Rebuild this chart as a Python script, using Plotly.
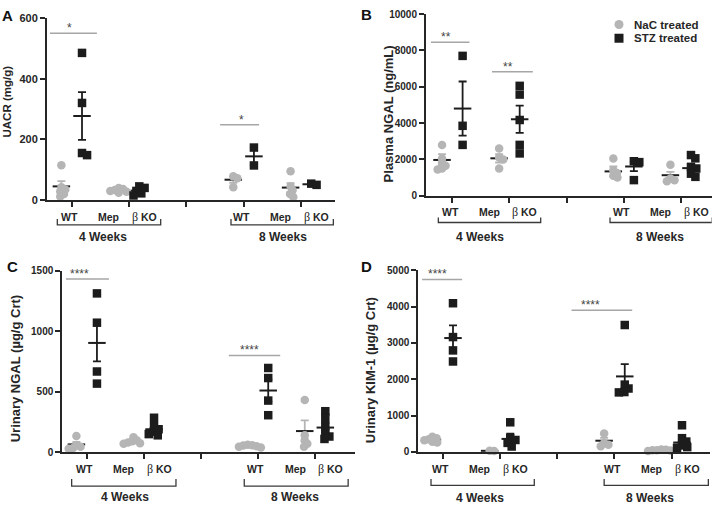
import numpy as np
import plotly.graph_objects as go

W, H = 713, 511

# ------------------------------------------------------------------ data
group_labels = ["WT", "Mep β KO", "WT", "Mep β KO"]
week_labels = ["4 Weeks", "8 Weeks"]
treatments = ["NaC treated", "STZ treated"]

# Panel A: UACR (mg/g)
uacr_nac = [[115, 42, 35, 28, 20, 12], [40, 36, 33, 30, 27, 24], [78, 72, 42], [95, 45, 32, 20, 10]]
uacr_stz = [[485, 320, 155, 148], [45, 40, 30, 22, 15], [173, 114], [54, 50]]
uacr_nac_mean = [45, 32, 67, 41]
uacr_nac_sem = [17, 3, 10, 15]
uacr_stz_mean = [277, 31, 144, 52]
uacr_stz_sem = [79, 6, 29, 2]
uacr_sig = ["*", "*"]
uacr_sig_level = [550, 248]
uacr_ticks = [0, 200, 400, 600]

# Panel B: Plasma NGAL (ng/mL)
pngal_nac = [[2800, 2050, 1800, 1650, 1500, 1450], [2600, 2100, 2000, 1500],
             [2050, 1400, 1250, 1100, 1000], [1700, 950, 850, 800]]
pngal_stz = [[7700, 3850, 2800], [6050, 5570, 4170, 2800, 2330],
             [1900, 1850, 860], [2240, 2060, 1580, 1500, 1215, 1040]]
pngal_nac_mean = [1970, 2060, 1340, 1130]
pngal_nac_sem = [320, 230, 270, 180]
pngal_stz_mean = [4800, 4210, 1610, 1520]
pngal_stz_sem = [1490, 750, 260, 240]
pngal_sig = ["**", "**"]
pngal_sig_level = [8450, 6830]
pngal_ticks = [0, 2000, 4000, 6000, 8000, 10000]

# Panel C: Urinary NGAL (µg/g Crt)
ungal_nac = [[135, 60, 45, 35, 30], [125, 100, 90, 80, 75, 70],
             [62, 58, 55, 50, 45, 40], [431, 140, 100, 70, 45]]
ungal_stz = [[1312, 1070, 667, 567], [285, 215, 190, 170, 150, 140],
             [696, 613, 427, 306], [339, 285, 215, 160, 130, 110]]
ungal_nac_mean = [65, 91, 52, 175]
ungal_nac_sem = [20, 8, 4, 88]
ungal_stz_mean = [903, 190, 510, 204]
ungal_stz_sem = [152, 20, 92, 38]
ungal_sig = ["****", "****"]
ungal_sig_level = [1430, 800]
ungal_ticks = [0, 500, 1000, 1500]

# Panel D: Urinary KIM-1 (µg/g Crt)
kim_nac = [[420, 380, 350, 320, 280, 260], [35, 30], [510, 240, 200, 160], [70, 60, 50, 45, 40, 30]]
kim_stz = [[4095, 3163, 2796, 2491], [817, 380, 330, 250, 150],
           [3495, 1855, 1747, 1650, 1640], [735, 380, 287, 180, 134, 116]]
kim_nac_mean = [340, 32, 310, 50]
kim_nac_sem = [25, 3, 80, 6]
kim_stz_mean = [3136, 360, 2080, 260]
kim_stz_sem = [350, 145, 340, 120]
kim_sig = ["****", "****"]
kim_sig_level = [4750, 3900]
kim_ticks = [0, 1000, 2000, 3000, 4000, 5000]

# ------------------------------------------------------------------ style / layout
GRAY = "#b5b5b5"
BLACK = "#1c1c1c"
AXC = "#262626"
SIGC = "#a6a6a6"
FONT = "Liberation Sans, Arial, sans-serif"

cat_pos = [1, 2, 4, 5]          # category centres on the x axis (3 = separator tick)
SUB = 0.18                      # NaC left / STZ right of the category centre

panels = [
    dict(letter="A", title="UACR (mg/g)", nac=uacr_nac, stz=uacr_stz,
         nm=uacr_nac_mean, ns=uacr_nac_sem, sm=uacr_stz_mean, ss=uacr_stz_sem,
         sig=uacr_sig, siglev=uacr_sig_level, ticks=uacr_ticks,
         box=(47, 335, 12.3, 198.7), xr=(0.569, 5.595),
         sigx=[(0.621, 1.44, 0.97), (3.59, 4.27, 3.97)],
         br=[(0.749, 2.553), (3.78, 5.566)], bry=(19.5, 25.5, 38), wkx=[1.55, 4.69],
         ttl=(7.3, 97.5, 11.5), tickfs=11, letpos=(7, 10)),
    dict(letter="B", title="Plasma NGAL (ng/mL)", nac=pngal_nac, stz=pngal_stz,
         nm=pngal_nac_mean, ns=pngal_nac_sem, sm=pngal_stz_mean, ss=pngal_stz_sem,
         sig=pngal_sig, siglev=pngal_sig_level, ticks=pngal_ticks,
         box=(426, 711.7, 8.3, 194.3), xr=(0.539, 5.543),
         sigx=[(0.627, 1.30, 0.89), (1.695, 2.41, 1.975)],
         br=[(0.755, 2.548), (3.762, 5.55)], bry=(22.4, 27.4, 42.3), wkx=[1.485, 4.64],
         ttl=(388, 111, 13), tickfs=10, letpos=(366, 9)),
    dict(letter="C", title="Urinary NGAL (µg/g Crt)", nac=ungal_nac, stz=ungal_stz,
         nm=ungal_nac_mean, ns=ungal_nac_sem, sm=ungal_stz_mean, ss=ungal_stz_sem,
         sig=ungal_sig, siglev=ungal_sig_level, ticks=ungal_ticks,
         box=(62.3, 355, 271, 457), xr=(0.573, 5.70),
         sigx=[(0.637, 1.39, 0.88), (3.49, 4.39, 3.86)],
         br=[(0.737, 2.564), (3.76, 5.58)], bry=(27.3, 34.7, 46.3), wkx=[1.67, 4.65],
         ttl=(15, 372, 13), tickfs=10, letpos=(12, 267)),
    dict(letter="D", title="Urinary KIM-1 (µg/g Crt)", nac=kim_nac, stz=kim_stz,
         nm=kim_nac_mean, ns=kim_nac_sem, sm=kim_stz_mean, ss=kim_stz_sem,
         sig=kim_sig, siglev=kim_sig_level, ticks=kim_ticks,
         box=(418.3, 710, 270.7, 456.7), xr=(0.574, 5.669),
         sigx=[(0.64, 1.34, 0.91), (3.25, 4.31, 3.58)],
         br=[(0.796, 2.60), (3.82, 5.64)], bry=(27.7, 34.3, 46.7), wkx=[1.65, 4.62],
         ttl=(370, 373, 13), tickfs=10, letpos=(367, 267)),
]

LEGEND_BOX = dict(marker_x=619, text_x=632, rows_y=[19, 33])
SWARM_SPACING = {"nac": 4.5, "stz": 5.5}     # px between neighbouring marker centres


def px2x(px):
    return px / W


def px2y(py):
    return 1 - py / H


def swarm(values, ppu_y, diam):
    """Deterministic beeswarm offsets (in px) so that marker centres keep a spacing."""
    vals = np.asarray(values, float)
    order = np.argsort(-vals, kind="stable")
    placed = []
    offs = np.zeros(len(vals))
    for i in order:
        y = vals[i] * ppu_y
        cands = [0.0]
        for (px, py) in placed:
            dy = abs(y - py)
            if dy < diam:
                dx = np.sqrt(diam ** 2 - dy ** 2)
                cands += [px + dx, px - dx]
        cands.sort(key=lambda c: (round(abs(c), 6), -c))
        for c in cands:
            if all((c - px) ** 2 + (y - py) ** 2 >= diam ** 2 - 1e-6 for px, py in placed):
                offs[i] = c
                placed.append((c, y))
                break
    return offs


fig = go.Figure()
layout = dict(
    width=W, height=H, margin=dict(l=0, r=0, t=0, b=0),
    paper_bgcolor="white", plot_bgcolor="rgba(0,0,0,0)",
    font=dict(family=FONT, color=AXC),
    showlegend=False,
)
shapes, annotations = [], []

for k, p in enumerate(panels):
    sfx = "" if k == 0 else str(k + 1)
    xa, ya = "x" + sfx, "y" + sfx
    L, R, T, B = p["box"]
    ymax = p["ticks"][-1]
    ppu_y = (B - T) / ymax
    ppu_x = (R - L) / (p["xr"][1] - p["xr"][0])

    layout["xaxis" + sfx] = dict(
        domain=[px2x(L), px2x(R)], range=list(p["xr"]), anchor=ya,
        showline=True, linecolor=AXC, linewidth=2, ticks="outside", ticklen=5,
        tickwidth=2, tickcolor=AXC, tickvals=[1, 2, 3, 4, 5], showticklabels=False,
        showgrid=False, zeroline=False, fixedrange=True)
    layout["yaxis" + sfx] = dict(
        domain=[px2y(B), px2y(T)], range=[0, ymax], anchor=xa,
        showline=True, linecolor=AXC, linewidth=2, ticks="outside", ticklen=5,
        tickwidth=2, tickcolor=AXC, tickvals=p["ticks"],
        ticktext=[str(t) for t in p["ticks"]],
        tickfont=dict(family=FONT, size=p["tickfs"], color=AXC, weight="bold"),
        showgrid=False, zeroline=False, fixedrange=True)

    series = (("nac", p["nac"], p["nm"], p["ns"], -1, GRAY, "circle", treatments[0]),
              ("stz", p["stz"], p["sm"], p["ss"], +1, BLACK, "square", treatments[1]))
    # mean ± SEM first, individual points on top of them
    for key, vals_all, means, sems, sgn, col, sym, name in series:
        for g in range(len(means)):
            centre = cat_pos[g] + sgn * SUB
            fig.add_trace(go.Scatter(
                x=[centre], y=[means[g]], mode="markers", xaxis=xa, yaxis=ya,
                marker=dict(symbol="line-ew", size=12.5, color=BLACK,
                            line=dict(width=2, color=BLACK)),
                error_y=dict(type="data", array=[sems[g]], color=col,
                             thickness=1.8, width=4),
                name=name + " mean ± SEM", cliponaxis=False, hoverinfo="skip"))
    for key, vals_all, means, sems, sgn, col, sym, name in series:
        for g, vals in enumerate(vals_all):
            centre = cat_pos[g] + sgn * SUB
            offs = swarm(vals, ppu_y, SWARM_SPACING[key]) / ppu_x
            fig.add_trace(go.Scatter(
                x=list(centre + offs), y=list(vals), mode="markers", xaxis=xa, yaxis=ya,
                marker=dict(symbol=sym, size=8.5, color=col, line=dict(width=0)),
                name=name, cliponaxis=False, hoverinfo="skip"))

    # significance bars
    for (x0, x1, xs), lab, lev in zip(p["sigx"], p["sig"], p["siglev"]):
        shapes.append(dict(type="line", xref=xa, yref=ya, x0=x0, x1=x1, y0=lev, y1=lev,
                           line=dict(color=SIGC, width=1.5)))
        annotations.append(dict(xref=xa, yref=ya, x=xs, y=lev, text=lab, showarrow=False,
                                yanchor="middle", yshift=5,
                                font=dict(family=FONT, size=12, color="#444")))

    # category labels under the x axis
    ylab = px2y(B + 17)
    for g, lab in enumerate(group_labels):
        if lab == "WT":
            annotations.append(dict(xref=xa, yref="paper", x=cat_pos[g] - 0.04, y=ylab,
                                    text="WT", showarrow=False, yanchor="middle",
                                    font=dict(family=FONT, size=10.5, color=AXC, weight="bold")))
        else:
            first, rest = lab.split(" ", 1)
            annotations.append(dict(xref=xa, yref="paper", x=cat_pos[g] - 0.35, y=ylab,
                                    text=first, showarrow=False, yanchor="middle",
                                    font=dict(family=FONT, size=10.5, color=AXC, weight="bold")))
            beta, ko = rest.split(" ", 1)
            annotations.append(dict(
                xref=xa, yref="paper", x=cat_pos[g] + 0.27, y=ylab,
                text="<span style='font-family:Liberation Serif;font-weight:normal;font-size:12px'>"
                     + beta + "</span> " + ko,
                showarrow=False, yanchor="middle",
                font=dict(family=FONT, size=10.5, color=AXC, weight="bold")))

    # week brackets
    ytip, yline, ywk = p["bry"]
    for (x0, x1), wx, wl in zip(p["br"], p["wkx"], week_labels):
        yt, yl = px2y(B + ytip), px2y(B + yline)
        shapes.append(dict(type="path", xref=xa, yref="paper",
                           path=f"M {x0},{yt} L {x0},{yl} L {x1},{yl} L {x1},{yt}",
                           line=dict(color="#3a3a3a", width=1.3)))
        annotations.append(dict(xref=xa, yref="paper", x=wx, y=px2y(B + ywk), text=wl,
                                showarrow=False, yanchor="middle",
                                font=dict(family=FONT, size=12, color=AXC, weight="bold")))

    # axis title and panel letter
    tx, ty, tfs = p["ttl"]
    annotations.append(dict(xref="paper", yref="paper", x=px2x(tx), y=px2y(ty), text=p["title"],
                            textangle=-90, showarrow=False, xanchor="center", yanchor="middle",
                            font=dict(family=FONT, size=tfs, color=AXC, weight="bold")))
    lx, ly = p["letpos"]
    annotations.append(dict(xref="paper", yref="paper", x=px2x(lx), y=px2y(ly), text=p["letter"],
                            showarrow=False, xanchor="center", yanchor="middle",
                            font=dict(family=FONT, size=15, color="#111", weight="bold")))

# legend (key for the two treatments), drawn on a full-figure overlay axis in pixels
layout["xaxis5"] = dict(domain=[0, 1], range=[0, W], anchor="y5", visible=False, fixedrange=True)
layout["yaxis5"] = dict(domain=[0, 1], range=[H, 0], anchor="x5", visible=False, fixedrange=True)
for (col, sym, name), ry in zip(((GRAY, "circle", treatments[0]), (BLACK, "square", treatments[1])),
                               LEGEND_BOX["rows_y"]):
    fig.add_trace(go.Scatter(x=[LEGEND_BOX["marker_x"]], y=[ry], mode="markers",
                             xaxis="x5", yaxis="y5", name=name,
                             marker=dict(symbol=sym, size=9, color=col, line=dict(width=0)),
                             cliponaxis=False, hoverinfo="skip"))
    annotations.append(dict(xref="x5", yref="y5", x=LEGEND_BOX["text_x"], y=ry, text=name,
                            showarrow=False, xanchor="left", yanchor="middle",
                            font=dict(family=FONT, size=11.5, color=AXC, weight="bold")))

layout["shapes"] = shapes
layout["annotations"] = annotations
fig.update_layout(**layout)
fig.write_html("out.html", config={"displayModeBar": False},
               post_script="document.body.style.margin='0';"
                           "document.body.style.overflow='hidden';")
